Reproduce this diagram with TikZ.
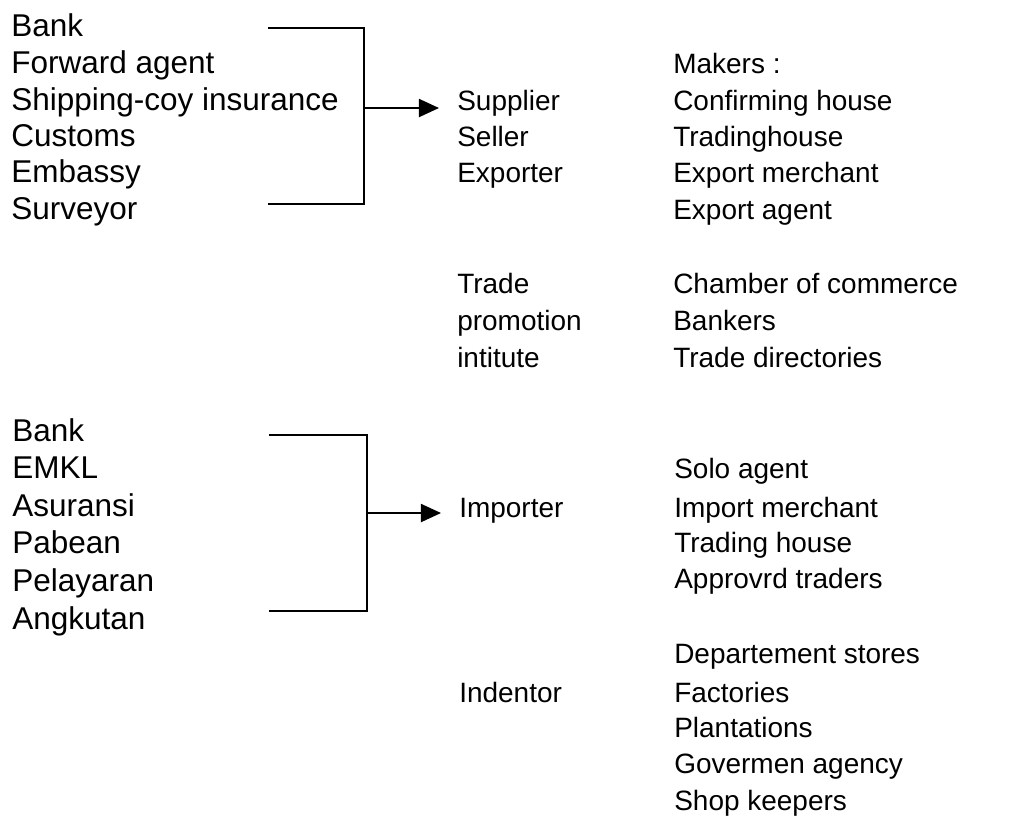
\documentclass[tikz,border=0pt]{standalone}
\usepackage{fontspec}
\setmainfont{Liberation Sans}
\usepackage{tikz}
\usetikzlibrary{positioning, arrows.meta}

\begin{document}
\begin{tikzpicture}[
  x=0.025cm, y=-0.025cm,
  item/.style={anchor=base west, inner sep=0pt, font=\fontsize{19.9}{24}\selectfont},
  party/.style={item, font=\fontsize{22.4}{26}\selectfont},
  line/.style={draw=black, line width=1.3pt},
  arrow/.style={line, -{Triangle[length=0.5cm, width=0.45cm]}, shorten >=0.45cm}
]
\useasboundingbox (0,0) rectangle (1032,818);

% === PIHAK TERKAIT EKSPOR ===
\node[party] (bank1) at (11,36) {Bank};
\node[party] (forward) at (11,73) {Forward agent};
\node[party] (shipping) at (11,110) {Shipping-coy insurance};
\node[party] (customs) at (11,146) {Customs};
\node[party] (embassy) at (11,182) {Embassy};
\node[party] (surveyor) at (11,219) {Surveyor};

% === EKSPORTIR ===
\node[item] (supplier) at (457,110) {Supplier};
\node[item] (seller) at (457,146) {Seller};
\node[item] (exporter) at (457,182) {Exporter};

\node[item] (makers) at (673,73) {Makers :};
\node[item] (confirming) at (673,110) {Confirming house};
\node[item] (tradinghouse) at (673,146) {Tradinghouse};
\node[item] (exportmerchant) at (673,182) {Export merchant};
\node[item] (exportagent) at (673,219) {Export agent};

% === PROMOSI DAGANG ===
\node[item] (trade) at (457,293) {Trade};
\node[item] (promotion) at (457,330) {promotion};
\node[item] (intitute) at (457,367) {intitute};

\node[item] (chamber) at (673,293) {Chamber of commerce};
\node[item] (bankers) at (673,330) {Bankers};
\node[item] (directories) at (673,367) {Trade directories};

% === PIHAK TERKAIT IMPOR ===
\node[party] (bank2) at (12,441) {Bank};
\node[party] (emkl) at (12,478) {EMKL};
\node[party] (asuransi) at (12,516) {Asuransi};
\node[party] (pabean) at (12,553) {Pabean};
\node[party] (pelayaran) at (12,591) {Pelayaran};
\node[party] (angkutan) at (12,629) {Angkutan};

% === IMPORTIR ===
\node[item] (importer) at (459,517) {Importer};
\node[item] (solo) at (674,478) {Solo agent};
\node[item] (importmerchant) at (674,517) {Import merchant};
\node[item] (tradinghouse2) at (674,552) {Trading house};
\node[item] (approvrd) at (674,588) {Approvrd traders};

% === INDENTOR ===
\node[item] (indentor) at (459,702) {Indentor};
\node[item] (departement) at (674,663) {Departement stores};
\node[item] (factories) at (674,702) {Factories};
\node[item] (plantations) at (674,737) {Plantations};
\node[item] (govermen) at (674,773) {Govermen agency};
\node[item] (shopkeepers) at (674,810) {Shop keepers};

% === KURUNG DAN PANAH ===
\coordinate (ekspA) at (268,28);
\coordinate (ekspB) at (364,28);
\coordinate (ekspC) at (364,204);
\coordinate (ekspD) at (268,204);
\coordinate (ekspJ) at (364,108);
\draw[line] (ekspA) -- (ekspB) -- (ekspC) -- (ekspD);
\draw[arrow] (ekspJ) -- (ekspJ -| supplier.west);

\coordinate (impA) at (269,435);
\coordinate (impB) at (367,435);
\coordinate (impC) at (367,611);
\coordinate (impD) at (269,611);
\coordinate (impJ) at (367,513);
\draw[line] (impA) -- (impB) -- (impC) -- (impD);
\draw[arrow] (impJ) -- (impJ -| importer.west);

\end{tikzpicture}
\end{document}
